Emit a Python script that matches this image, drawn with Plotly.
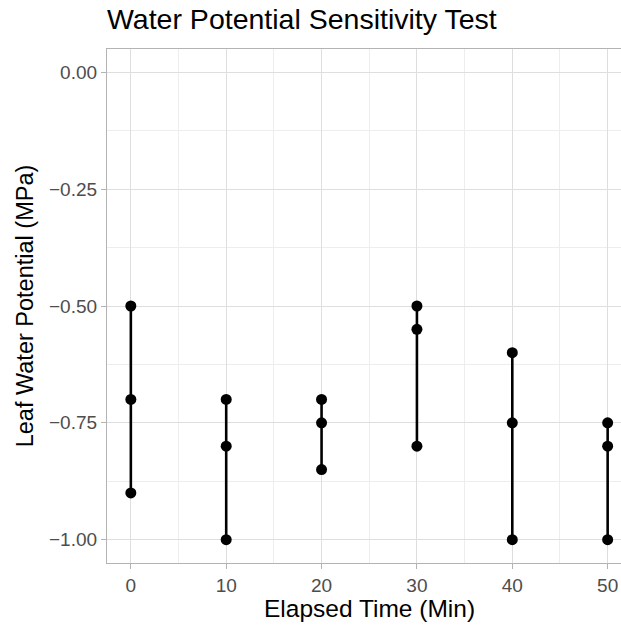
import plotly.graph_objects as go

# Data
times = [0, 0, 0, 10, 10, 10, 20, 20, 20, 30, 30, 30, 40, 40, 40, 50, 50, 50]
potentials = [-0.50, -0.70, -0.90,
              -0.70, -0.80, -1.00,
              -0.70, -0.75, -0.85,
              -0.50, -0.55, -0.80,
              -0.60, -0.75, -1.00,
              -0.75, -0.80, -1.00]
x_ticks = [0, 10, 20, 30, 40, 50]
y_ticks = [0.00, -0.25, -0.50, -0.75, -1.00]

# build range segments (min to max per time)
seg_x, seg_y = [], []
for t in sorted(set(times)):
    vals = [v for tt, v in zip(times, potentials) if tt == t]
    seg_x += [t, t, None]
    seg_y += [min(vals), max(vals), None]

W, H = 621, 625
L, T = 107, 49
B = H - 563
PH = H - T - B
PW = W - L
FONT = "Liberation Sans, Arial, Helvetica, sans-serif"

fig = go.Figure()
fig.add_trace(go.Scatter(x=seg_x, y=seg_y, mode="lines",
                         line=dict(color="black", width=2.6),
                         showlegend=False, hoverinfo="skip"))
fig.add_trace(go.Scatter(x=times, y=potentials, mode="markers",
                         marker=dict(color="black", size=11),
                         showlegend=False))

fig.update_layout(
    width=W, height=H,
    margin=dict(l=L, r=0, t=T, b=B, pad=0),
    paper_bgcolor="white", plot_bgcolor="white",
    font=dict(family=FONT, color="#4D4D4D"),
    title=dict(text="Water Potential Sensitivity Test",
               font=dict(family=FONT, size=28.5, color="black"),
               x=107 / W, xanchor="left", xref="container",
               y=1 - 19 / H, yanchor="middle", yref="container"),
    xaxis=dict(
        range=[-2.5, 51.4],
        tickmode="array", tickvals=x_ticks,
        ticktext=[str(v) for v in x_ticks],
        ticks="outside", ticklen=5, tickwidth=1.2, tickcolor="#B3B3B3",
        tickfont=dict(size=19, color="#4D4D4D"),
        ticklabeloverflow="allow",
        showgrid=True, gridcolor="#DEDEDE", gridwidth=1,
        minor=dict(tickvals=[5, 15, 25, 35, 45], showgrid=True,
                   gridcolor="#EDEDED", gridwidth=0.7, ticks=""),
        showline=True, linecolor="#B3B3B3", linewidth=1.3, mirror=True,
        zeroline=False,
    ),
    yaxis=dict(
        range=[-1.05, 0.05],
        tickmode="array", tickvals=y_ticks,
        ticktext=[("\u2212" if v < 0 else "") + f"{abs(v):.2f}" for v in y_ticks],
        ticks="outside", ticklen=5, tickwidth=1.2, tickcolor="#B3B3B3",
        tickfont=dict(size=19, color="#4D4D4D"),
        showgrid=True, gridcolor="#DEDEDE", gridwidth=1,
        minor=dict(tickvals=[-0.125, -0.375, -0.625, -0.875], showgrid=True,
                   gridcolor="#EDEDED", gridwidth=0.7, ticks=""),
        showline=True, linecolor="#B3B3B3", linewidth=1.3, mirror=False,
        zeroline=False,
        title=dict(text="Leaf Water Potential (MPa)",
                   font=dict(size=23.5, color="black"), standoff=8),
    ),
    annotations=[dict(
        text="Elapsed Time (Min)", showarrow=False,
        xref="paper", yref="paper",
        x=(369 - L) / PW, xanchor="center",
        y=-(608.5 - 563) / PH, yanchor="middle",
        font=dict(family=FONT, size=24.5, color="black"),
    )],
)

# remove the default page margin so the figure fills the window exactly
fig.write_html(
    "out.html",
    config={"displayModeBar": False},
    post_script=("document.documentElement.style.margin='0';"
                 "document.body.style.margin='0';"
                 "document.documentElement.style.overflow='hidden';"
                 "document.body.style.overflow='hidden';"),
)
